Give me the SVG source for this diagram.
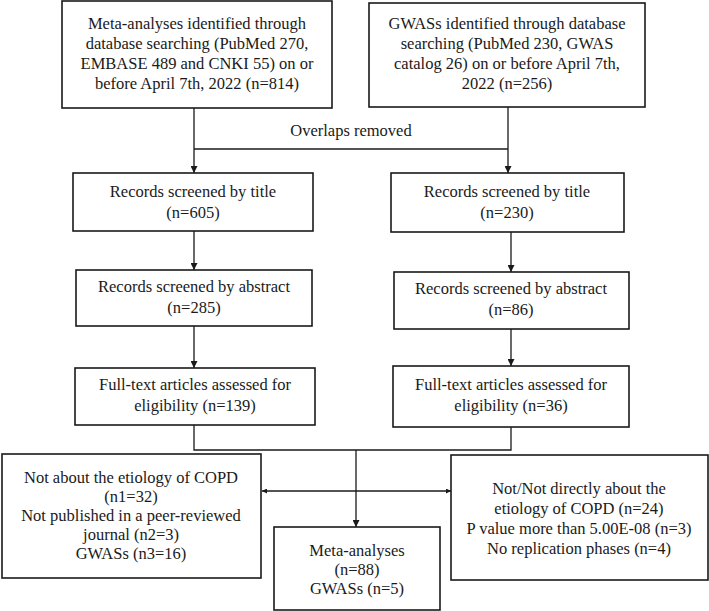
<svg xmlns="http://www.w3.org/2000/svg" width="709" height="611" viewBox="0 0 709 611">
<style>
.box{fill:#fff;stroke:#1a1a1a;stroke-width:1.6}
.t{font-family:'Liberation Serif','Times New Roman',Tinos,'DejaVu Serif',serif;font-size:16.5px;fill:#1a1a1a;text-anchor:middle}
.ln{fill:none;stroke:#1a1a1a;stroke-width:1.3}
</style>
<defs>
<marker id="ah" viewBox="0 0 10 10" refX="10" refY="5" markerWidth="7" markerHeight="7" markerUnits="userSpaceOnUse" orient="auto">
<path d="M0,0 L10,5 L0,10 z" fill="#1a1a1a"/>
</marker>
<marker id="ahs" viewBox="0 0 10 10" refX="10" refY="5" markerWidth="5" markerHeight="5" markerUnits="userSpaceOnUse" orient="auto-start-reverse">
<path d="M0,0 L10,5 L0,10 z" fill="#1a1a1a"/>
</marker>
</defs>
<g id="connectors">
<path class="ln" d="M194,108 V173" marker-end="url(#ah)"/>
<path class="ln" d="M194,149 H508"/>
<path class="ln" d="M508,107 V173" marker-end="url(#ah)"/>
<text class="t" x="351" y="136" font-family="Liberation Serif, serif">Overlaps removed</text>
<path class="ln" d="M194,231 V270" marker-end="url(#ah)"/>
<path class="ln" d="M194,326 V368" marker-end="url(#ah)"/>
<path class="ln" d="M511,232 V272" marker-end="url(#ah)"/>
<path class="ln" d="M511,329 V366" marker-end="url(#ah)"/>
<path class="ln" d="M194,425 V450 H511 V427"/>
<path class="ln" d="M356,450 V527" marker-end="url(#ah)"/>
<path class="ln" d="M262,491 H451" marker-start="url(#ahs)" marker-end="url(#ahs)"/>
</g>
<g id="meta-search">
<rect class="box" x="62" y="1" width="270" height="107"/>
<text class="t" x="197" y="29">Meta-analyses identified through</text>
<text class="t" x="197" y="49">database searching (PubMed 270,</text>
<text class="t" x="197" y="69">EMBASE 489 and CNKI 55) on or</text>
<text class="t" x="197" y="89">before April 7th, 2022 (n=814)</text>
</g>
<g id="gwas-search">
<rect class="box" x="369" y="3" width="276" height="104"/>
<text class="t" x="507" y="29">GWASs identified through database</text>
<text class="t" x="507" y="49">searching (PubMed 230, GWAS</text>
<text class="t" x="507" y="69">catalog 26) on or before April 7th,</text>
<text class="t" x="507" y="89">2022 (n=256)</text>
</g>
<g id="meta-title">
<rect class="box" x="73" y="173" width="240" height="58"/>
<text class="t" x="193" y="197">Records screened by title</text>
<text class="t" x="193" y="218">(n=605)</text>
</g>
<g id="gwas-title">
<rect class="box" x="391" y="173" width="233" height="59"/>
<text class="t" x="507" y="197">Records screened by title</text>
<text class="t" x="507" y="218">(n=230)</text>
</g>
<g id="meta-abstract">
<rect class="box" x="76" y="270" width="236" height="56"/>
<text class="t" x="194" y="292">Records screened by abstract</text>
<text class="t" x="194" y="313">(n=285)</text>
</g>
<g id="gwas-abstract">
<rect class="box" x="394" y="272" width="235" height="57"/>
<text class="t" x="511" y="294">Records screened by abstract</text>
<text class="t" x="511" y="315">(n=86)</text>
</g>
<g id="meta-fulltext">
<rect class="box" x="75" y="368" width="240" height="57"/>
<text class="t" x="195" y="390">Full-text articles assessed for</text>
<text class="t" x="195" y="411">eligibility (n=139)</text>
</g>
<g id="gwas-fulltext">
<rect class="box" x="393" y="366" width="236" height="61"/>
<text class="t" x="511" y="390">Full-text articles assessed for</text>
<text class="t" x="511" y="411">eligibility (n=36)</text>
</g>
<g id="excluded-left">
<rect class="box" x="2" y="454" width="259" height="124"/>
<text class="t" x="131" y="483">Not about the etiology of COPD</text>
<text class="t" x="131" y="502">(n1=32)</text>
<text class="t" x="131" y="521">Not published in a peer-reviewed</text>
<text class="t" x="131" y="540">journal (n2=3)</text>
<text class="t" x="131" y="559">GWASs (n3=16)</text>
</g>
<g id="included">
<rect class="box" x="274" y="527" width="166" height="83"/>
<text class="t" x="357" y="556">Meta-analyses</text>
<text class="t" x="357" y="575">(n=88)</text>
<text class="t" x="357" y="594">GWASs (n=5)</text>
</g>
<g id="excluded-right">
<rect class="box" x="451" y="455" width="257" height="125"/>
<text class="t" x="579" y="494">Not/Not directly about the</text>
<text class="t" x="579" y="514">etiology of COPD (n=24)</text>
<text class="t" x="579" y="534">P value more than 5.00E-08 (n=3)</text>
<text class="t" x="579" y="554">No replication phases (n=4)</text>
</g>
</svg>
